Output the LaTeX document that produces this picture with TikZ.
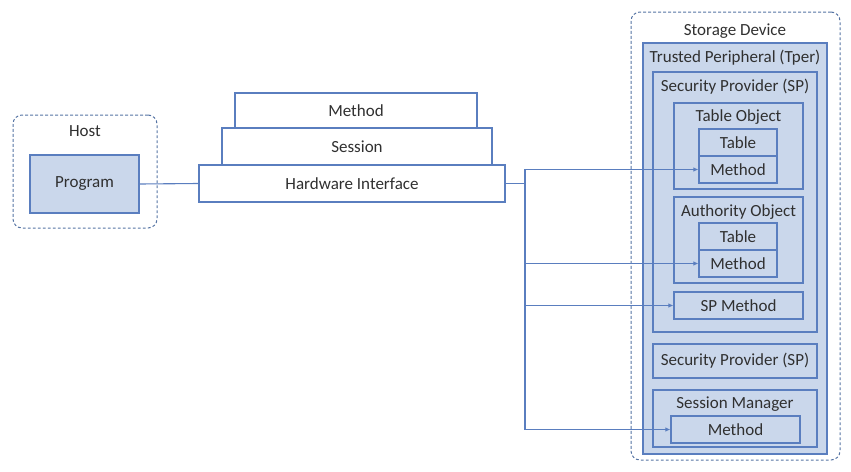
\documentclass[tikz,border=0pt]{standalone}
\usepackage{fontspec}
\setmainfont{Carlito}
\usetikzlibrary{arrows.meta}
\definecolor{edge}{HTML}{5A7EBF}
\definecolor{boxfill}{HTML}{CAD7EB}
\definecolor{dash}{HTML}{5473A3}
\definecolor{txt}{HTML}{303030}
\begin{document}
\begin{tikzpicture}[x=1pt,y=-1pt,
  font=\fontsize{17}{20}\selectfont, text=txt,
  outer/.style={draw=dash, line width=1pt, dash pattern=on 2.8pt off 2.2pt, rounded corners=9pt, inner sep=0pt},
  wbox/.style={draw=edge, line width=1.2pt, fill=white, inner sep=0pt},
  bbox/.style={draw=edge, line width=1.2pt, fill=boxfill, inner sep=0pt},
  lbl/.style={inner sep=0pt, anchor=center},
  conn/.style={draw=edge, line width=1.1pt},
  arr/.style={conn, -{Latex[length=5pt,width=4.5pt]}}]
\path[use as bounding box] (0,0) rectangle (851,471);
% Host
\node[outer, minimum width=144pt, minimum height=113pt] (host) at (85,171.5) {};
\node[lbl] (hostl) at (85,131) {Host};
\node[bbox, minimum width=109pt, minimum height=58pt] (prog) at (84.5,184) {Program};
% stack
\node[wbox, minimum width=242pt, minimum height=35pt] (meth) at (356,110.5) {Method};
\node[wbox, minimum width=270pt, minimum height=37pt] (sess) at (357,146.5) {Session};
\node[wbox, minimum width=306pt, minimum height=37pt] (hw) at (352,183.5) {Hardware Interface};
% storage device
\node[outer, minimum width=209pt, minimum height=448pt] (stor) at (735.5,236) {};
\node[lbl] (storl) at (735,31) {Storage Device};
\node[bbox, minimum width=184pt, minimum height=411pt] (tper) at (735,248.5) {};
\node[lbl] (tperl) at (735,58) {Trusted Peripheral (Tper)};
\node[bbox, minimum width=164pt, minimum height=260pt] (sp) at (735,202) {};
\node[lbl] (spl) at (735,87) {Security Provider (SP)};
\node[bbox, minimum width=129pt, minimum height=86pt] (tobj) at (738.5,146) {};
\node[lbl] (tobjl) at (738.5,117) {Table Object};
\node[bbox, minimum width=78pt, minimum height=27pt] (tab1) at (738,142.5) {Table};
\node[bbox, minimum width=78pt, minimum height=27pt] (m1) at (738,169.5) {Method};
\node[bbox, minimum width=129pt, minimum height=86pt] (aobj) at (738.5,240) {};
\node[lbl] (aobjl) at (738.5,212) {Authority Object};
\node[bbox, minimum width=78pt, minimum height=27pt] (tab2) at (738,236.5) {Table};
\node[bbox, minimum width=78pt, minimum height=27pt] (m2) at (738,263.5) {Method};
\node[bbox, minimum width=129pt, minimum height=27pt] (spm) at (738.5,305.5) {SP Method};
\node[bbox, minimum width=164pt, minimum height=34pt] (sp2) at (735,361) {Security Provider (SP)};
\node[bbox, minimum width=164pt, minimum height=57pt] (sm) at (735,418.5) {};
\node[lbl] (sml) at (735,404) {Session Manager};
\node[bbox, minimum width=129pt, minimum height=27pt] (smm) at (735.5,429.5) {Method};
% connectors
\coordinate (j) at (525,183.5);
\draw[conn] (prog.east) -- (hw.west);
\draw[conn] (hw.east) -- (j);
\draw[arr] (j) |- (m1.west);
\draw[arr] (j) |- (m2.west);
\draw[arr] (j) |- (spm.west);
\draw[arr] (j) |- (smm.west);
\end{tikzpicture}
\end{document}
